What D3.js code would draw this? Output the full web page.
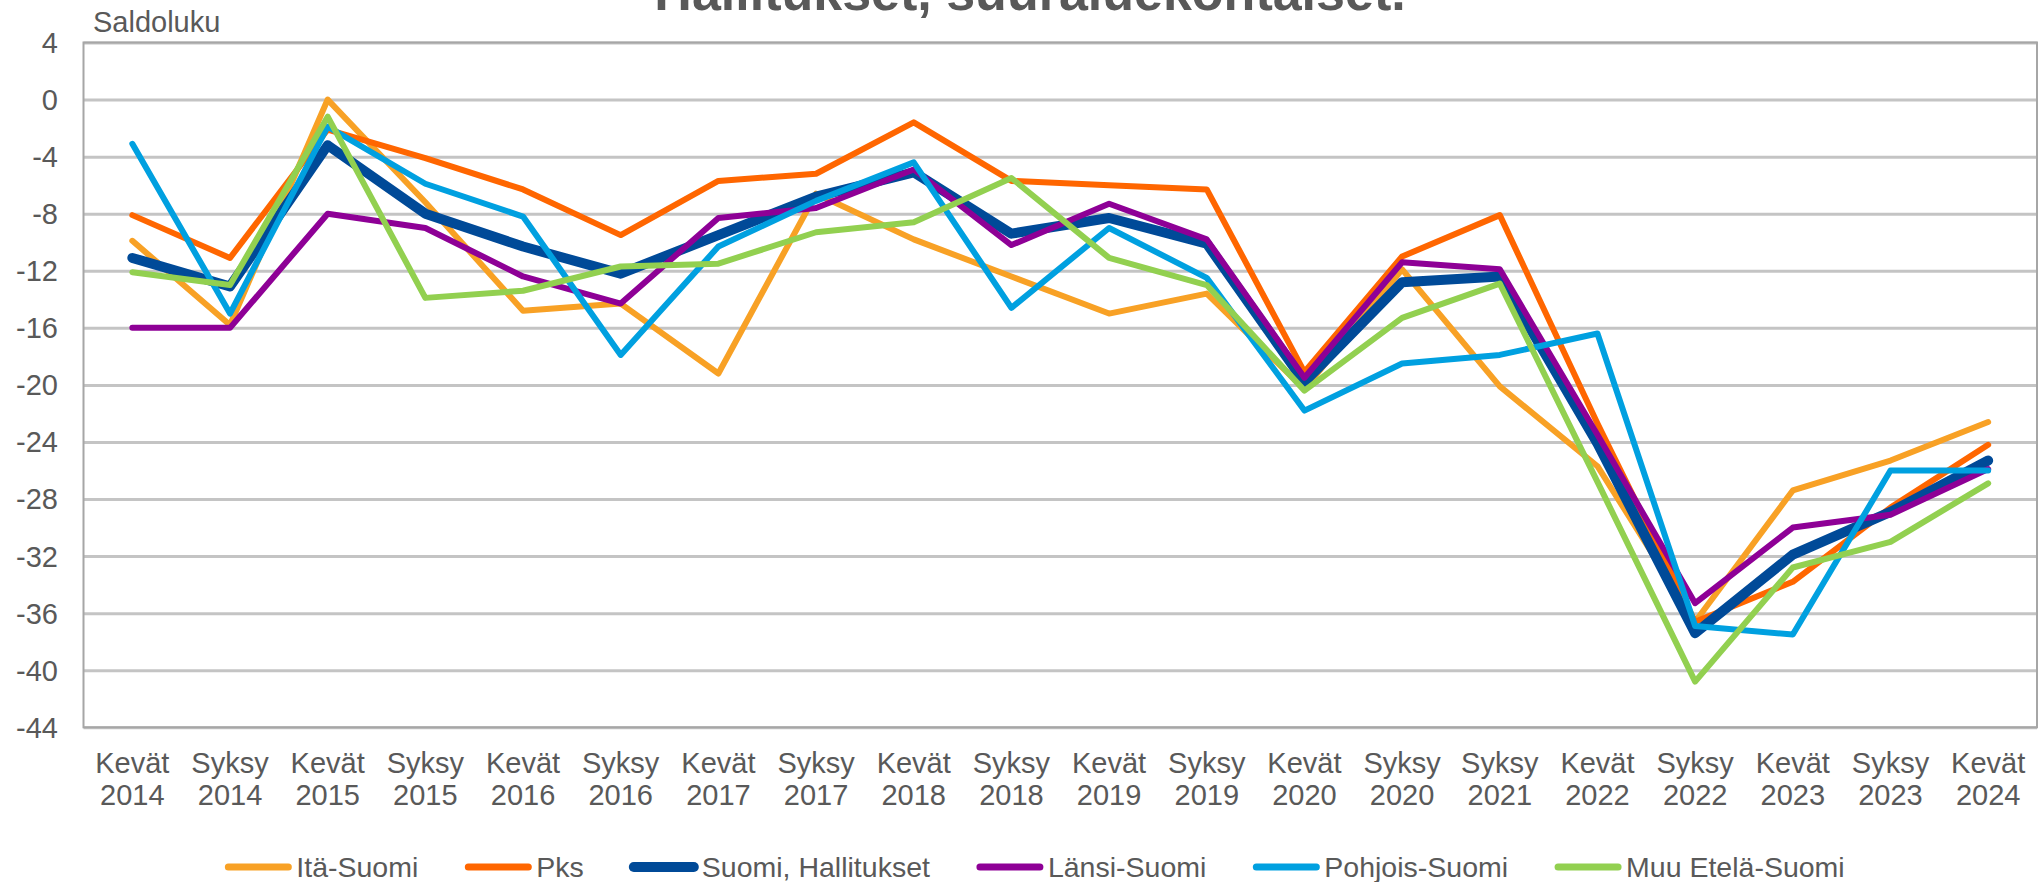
<!DOCTYPE html>
<html>
<head>
<meta charset="utf-8">
<script src="https://cdn.jsdelivr.net/npm/d3@7"></script>
<style>
  body { margin: 0; background: #fff; }
  svg text { font-family: "Liberation Sans", Arial, sans-serif; fill: #595959; }
</style>
</head>
<body>
<svg id="chart" width="2044" height="882"></svg>
<script>
// categories (x axis)
const categories = ["Kevät 2014","Syksy 2014","Kevät 2015","Syksy 2015","Kevät 2016","Syksy 2016",
  "Kevät 2017","Syksy 2017","Kevät 2018","Syksy 2018","Kevät 2019","Syksy 2019","Kevät 2020",
  "Syksy 2020","Syksy 2021","Kevät 2022","Syksy 2022","Kevät 2023","Syksy 2023","Kevät 2024"];

// series values (saldoluku)
const itaSuomi = [-9.9, -15.8, 0, -7.2, -14.8, -14.3, -19.2, -6.6, -9.8, -12.4, -15.0, -13.6, -20.3, -11.9, -20.1, -25.7, -36.6, -27.4, -25.3, -22.6];
const pks      = [-8.1, -11.1, -2.1, -4.1, -6.3, -9.5, -5.7, -5.2, -1.6, -5.7, -6.0, -6.3, -19.1, -11.0, -8.1, -22.7, -36.6, -33.8, -28.6, -24.2];
const suomi    = [-11.1, -13.1, -3.2, -8.0, -10.3, -12.2, -9.5, -6.8, -5.1, -9.4, -8.3, -10.1, -19.8, -12.8, -12.4, -24.1, -37.4, -31.9, -28.9, -25.3];
const lansi    = [-16.0, -16.0, -8.0, -9.0, -12.4, -14.3, -8.3, -7.6, -4.9, -10.2, -7.3, -9.8, -19.5, -11.4, -11.9, -23.5, -35.3, -30.0, -29.1, -25.9];
const pohjois  = [-3.1, -15.0, -1.9, -5.9, -8.2, -17.9, -10.3, -7.1, -4.4, -14.6, -9.0, -12.5, -21.8, -18.5, -17.9, -16.4, -36.9, -37.5, -26.0, -26.0];
const muu      = [-12.1, -13.0, -1.2, -13.9, -13.4, -11.7, -11.5, -9.3, -8.6, -5.5, -11.1, -13.0, -20.4, -15.3, -12.9, -26.8, -40.8, -32.8, -31.0, -26.9];

// y axis ticks
const yTicks = [4, 0, -4, -8, -12, -16, -20, -24, -28, -32, -36, -40, -44];

const seriesNames = ["Itä-Suomi", "Pks", "Suomi, Hallitukset", "Länsi-Suomi", "Pohjois-Suomi", "Muu Etelä-Suomi"];
const seriesData = [itaSuomi, pks, suomi, lansi, pohjois, muu];
const colors = ["#F8A125", "#FF6600", "#004A98", "#8E0096", "#00A0E0", "#92D050"];
const widths = [6, 6, 10, 6, 6, 6];

const svg = d3.select("#chart");

const plot = { left: 83.5, right: 2037, top: 42.5, bottom: 727.3 };

// scales
const xScale = d3.scaleBand()
  .domain(categories)
  .range([plot.left, plot.right])
  .padding(0);

const yScale = d3.scaleLinear()
  .domain([-44, 4])
  .range([plot.bottom, plot.top]);

// title (cut off at top like the original)
svg.append("text")
  .attr("x", 1030)
  .attr("y", 10)
  .attr("text-anchor", "middle")
  .style("font-size", "52px")
  .style("font-weight", "bold")
  .text("Hallitukset, suuraluekohtaiset.");

// grid lines
svg.append("g")
  .attr("class", "grid")
  .attr("transform", "translate(" + plot.left + ",0)")
  .call(d3.axisLeft(yScale)
    .tickValues(yTicks)
    .tickSize(-(plot.right - plot.left))
    .tickFormat("")
    .tickSizeOuter(0))
  .call(g => g.select(".domain").remove())
  .selectAll(".tick line")
  .attr("stroke", "#C4C4C4")
  .attr("stroke-width", 3);

// plot border
svg.append("rect")
  .attr("x", plot.left)
  .attr("y", plot.top)
  .attr("width", plot.right - plot.left)
  .attr("height", plot.bottom - plot.top)
  .attr("fill", "none")
  .attr("stroke", "#A6A6A6")
  .attr("stroke-width", 2);

// y tick labels
svg.append("g")
  .selectAll("text")
  .data(yTicks)
  .enter()
  .append("text")
  .attr("x", 58)
  .attr("y", d => yScale(d))
  .attr("dy", "0.36em")
  .attr("text-anchor", "end")
  .style("font-size", "29px")
  .text(d => d);

// y axis title
svg.append("text")
  .attr("x", 93)
  .attr("y", 32)
  .style("font-size", "29px")
  .text("Saldoluku");

// x labels, two rows
const xLab = svg.append("g")
  .selectAll("text")
  .data(categories)
  .enter()
  .append("text")
  .attr("text-anchor", "middle")
  .style("font-size", "29px");

xLab.append("tspan")
  .attr("x", d => xScale(d) + xScale.bandwidth() / 2)
  .attr("y", 773)
  .text(d => d.split(" ")[0]);
xLab.append("tspan")
  .attr("x", d => xScale(d) + xScale.bandwidth() / 2)
  .attr("y", 805)
  .text(d => d.split(" ")[1]);

// lines
const line = d3.line()
  .x((d, i) => xScale(categories[i]) + xScale.bandwidth() / 2)
  .y(d => yScale(d));

seriesData.forEach((vals, k) => {
  svg.append("path")
    .datum(vals)
    .attr("d", line)
    .attr("fill", "none")
    .attr("stroke", colors[k])
    .attr("stroke-width", widths[k])
    .attr("stroke-linejoin", "round")
    .attr("stroke-linecap", "round");
});

// legend
const legend = svg.append("g");
let lx = 0;
seriesNames.forEach((name, k) => {
  const item = legend.append("g").attr("transform", "translate(" + lx + ",0)");
  item.append("line")
    .attr("x1", 3).attr("x2", 63)
    .attr("y1", 867).attr("y2", 867)
    .attr("stroke", colors[k])
    .attr("stroke-width", widths[k] == 10 ? 10 : 7)
    .attr("stroke-linecap", "round");
  const t = item.append("text")
    .attr("x", 71)
    .attr("y", 877)
    .style("font-size", "28.5px")
    .text(name);
  lx += 71 + t.node().getComputedTextLength() + 47;
});
lx -= 47;
legend.attr("transform", "translate(" + (1035 - lx / 2) + ",0)");
</script>
</body>
</html>
